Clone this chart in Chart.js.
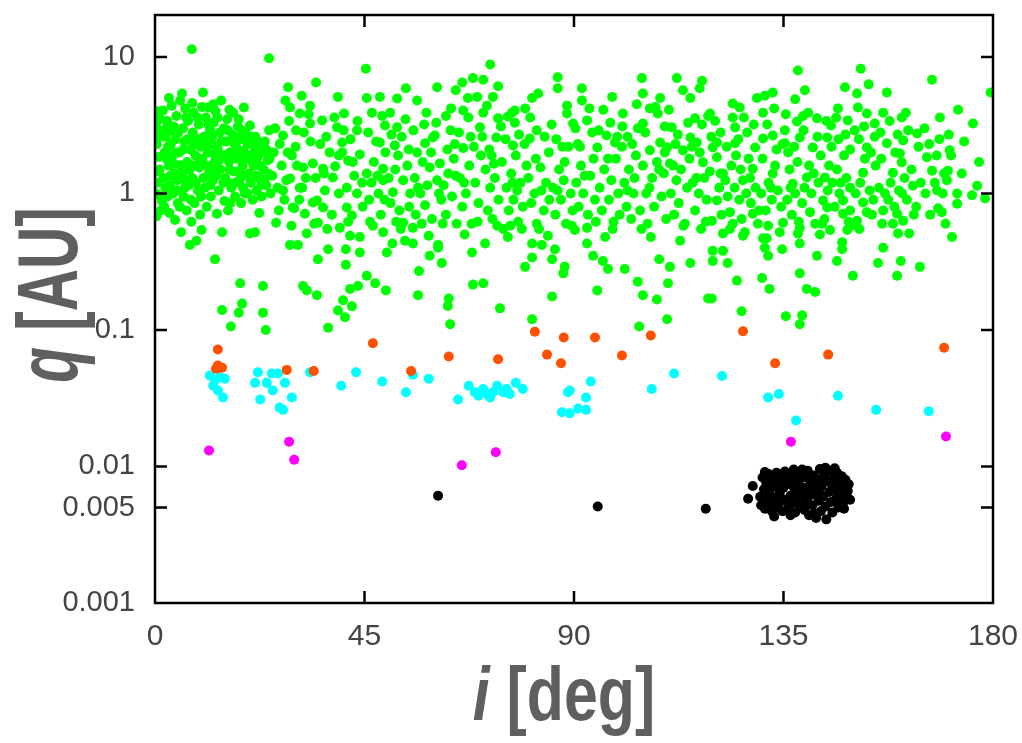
<!DOCTYPE html>
<html>
<head>
<meta charset="utf-8">
<script src="https://cdn.jsdelivr.net/npm/chart.js@4.4.1/dist/chart.umd.min.js"></script>
<style>
  html, body { margin: 0; padding: 0; background: #fff; }
  #wrap { width: 1022px; height: 743px; }
</style>
</head>
<body>
<div id="wrap"><canvas id="myChart" width="1022" height="743"></canvas></div>
<script>
// ejes
const xTicks = [0, 45, 90, 135, 180];
const yTicks = [0.001, 0.005, 0.01, 0.1, 1, 10];
const xTitle = ['i', ' [deg]'];
const yTitle = ['q', ' [AU]'];

// puntos [i (deg), q (AU)]
const greenPts = [
  [0.3,0.68],[0.5,1.2],[0.4,2.3],[0.3,3.05],[0.5,4.0],[1.2,0.95],[1.0,1.5],[1.4,2.7],[1.7,4.05],[2.0,0.8],[2.2,1.1],[2.5,1.8],[2.6,3.4],[2.8,2.2],[3.1,0.72],[3.3,1.35],[3.5,2.9],[3.6,4.4],[3.9,1.0],[4.1,1.65],[4.3,0.64],[4.4,2.5],[4.6,3.7],[4.8,1.25],[4.9,0.85],[1.5,0.88],[3.0,1.6],[2.3,2.6],[4.0,3.1],[0.8,1.85],
  [5.2,2.0],[5.4,4.8],[5.8,5.4],[5.6,0.52],[5.9,1.4],[6.0,3.0],[6.2,0.95],[6.3,2.4],[6.5,4.2],[6.8,0.75],[6.9,1.7],[7.1,3.4],[7.3,1.15],[7.5,0.42],[7.6,2.1],[7.8,0.62],[8.0,1.3],[8.1,2.8],[8.3,3.9],[8.5,0.85],[8.7,1.9],[8.9,0.45],[9.0,2.5],[9.2,1.05],[9.4,3.2],[9.5,1.55],[9.7,0.7],[9.8,2.2],[7.9,11.4],[6.6,1.25],[8.2,1.6],
  [10.0,0.54],[10.2,1.8],[10.3,5.5],[10.5,2.6],[10.7,1.1],[10.9,3.6],[11.1,0.8],[11.3,2.0],[11.4,4.26],[11.6,1.4],[11.8,2.9],[12.0,0.95],[12.2,2.3],[12.4,1.25],[12.6,3.3],[12.9,0.33],[12.8,1.7],[13.0,4.0],[13.3,0.71],[13.5,2.1],[13.7,1.05],[13.9,2.8],[14.0,1.5],[14.2,4.8],[14.4,0.52],[14.4,0.14],[14.6,1.9],[14.8,3.0],[14.9,0.88],[12.1,1.55],
  [15.1,1.3],[15.3,2.4],[15.5,3.5],[15.7,0.75],[15.9,1.7],[16.1,2.0],[16.3,0.106],[16.4,1.1],[16.6,2.7],[16.8,3.9],[17.0,1.45],[17.2,0.95],[17.4,2.2],[17.6,1.8],[17.8,3.1],[18.0,0.134],[18.3,0.22],[18.1,1.25],[18.3,2.5],[18.5,0.85],[18.7,0.156],[18.8,1.6],[19.1,4.26],[19.0,2.05],[19.3,1.0],[19.5,2.8],[19.7,1.35],[19.9,2.3],[15.8,1.2],[17.5,2.55],
  [20.1,1.9],[20.4,3.15],[20.4,0.51],[20.6,1.2],[20.8,2.3],[21.0,0.9],[21.2,1.6],[21.5,0.52],[21.6,2.6],[21.8,1.05],[22.0,1.85],[22.3,1.3],[22.6,2.1],[22.9,0.95],[23.2,0.21],[23.2,0.134],[23.3,1.5],[23.6,2.4],[23.8,0.10],[23.9,1.15],[24.2,1.75],[24.5,9.8],[24.5,2.9],[24.8,1.0],[22.4,0.72],
  [25.2,1.35],[25.5,2.0],[26.0,0.61],[26.3,1.1],[26.8,2.3],[27.5,2.66],[27.2,1.6],[27.8,0.9],[28.2,1.25],[28.6,6.0],[28.8,3.4],[29.0,4.26],[29.0,1.29],[29.0,0.42],[29.6,0.79],[29.9,0.78],[29.4,1.9],[28.0,4.8],
  [30.2,2.2],[30.7,0.42],[31.1,1.1],[31.1,3.85],[31.5,5.2],[31.6,1.1],[31.8,0.21],[31.8,1.55],[32.2,0.71],[32.6,0.51],[32.6,0.195],[33.3,4.4],[33.3,3.26],[33.4,2.4],[33.9,0.86],[33.9,1.66],[34.6,6.5],[34.8,0.89],[34.8,0.18],[34.5,1.3],[32.0,2.8],[30.5,1.6],
  [35.0,0.61],[35.0,0.33],[35.9,3.43],[36.1,1.52],[36.1,0.79],[36.5,1.05],[37.2,0.39],[37.2,0.104],[37.5,2.0],[38.2,1.31],[38.7,1.58],[39.1,3.05],[39.3,5.1],[39.3,0.139],[39.7,0.56],[38.0,0.7],[36.8,2.6],[39.5,1.0],
  [40.2,2.36],[40.2,2.0],[40.4,0.165],[40.6,3.85],[40.8,0.124],[41.0,0.39],[41.0,0.30],[41.2,1.1],[41.2,0.79],[41.5,1.74],[41.9,0.49],[41.9,0.2],[42.3,0.69],[42.3,0.149],[43.4,2.9],[43.4,1.0],[43.6,0.21],[44.0,0.37],[44.0,1.93],[44.0,0.48],[42.8,1.35],[44.6,0.8],[42.0,2.5],
  [45.3,8.2],[45.5,5.0],[45.5,1.4],[45.5,0.25],[46.6,3.9],[46.0,0.9],[46.5,1.2],[47.3,0.22],[47.5,2.4],[48.3,5.1],[48.3,2.36],[48.5,0.7],[49.0,1.52],[49.0,1.25],[49.0,0.52],[49.4,3.15],[49.6,0.195],[49.8,0.37],[47.0,1.7],[48.0,1.0],[46.2,0.62],[49.5,2.0],
  [50.5,3.9],[51.0,0.43],[51.1,1.02],[51.5,2.25],[52.0,4.97],[52.0,3.05],[52.2,1.9],[52.5,0.75],[53.3,1.25],[53.3,0.61],[53.7,0.45],[53.9,5.9],[54.2,1.6],[54.8,1.0],[50.2,1.3],[51.8,0.62],[50.6,0.85],[53.0,2.6],[54.5,2.1],
  [55.4,0.43],[55.4,0.56],[56.3,4.8],[56.3,2.0],[56.5,0.18],[56.7,0.27],[58.0,2.33],[58.0,0.82],[58.8,0.49],[59.0,0.35],[59.0,1.55],[59.7,2.57],[55.8,1.3],[57.0,1.0],[57.5,1.7],[56.0,0.7],[58.5,1.15],[59.5,0.65],[57.8,3.2],
  [60.1,2.66],[60.6,6.0],[60.6,1.25],[60.8,0.42],[61.2,1.66],[61.6,0.31],[62.5,3.7],[62.9,0.15],[63.1,0.17],[63.4,0.11],[64.4,2.3],[64.6,5.7],[60.8,0.40],[61.5,0.9],[62.0,1.15],[62.5,0.7],[63.0,1.4],[63.8,0.95],[64.2,1.8],[64.8,0.6],[61.0,1.0],[63.5,2.9],
  [66.0,6.5],[66.2,4.05],[66.2,2.15],[67.2,5.0],[68.3,7.0],[68.3,0.215],[68.1,0.37],[69.2,5.1],[69.8,3.05],[65.5,1.3],[66.0,0.8],[66.8,1.0],[67.5,1.6],[68.0,0.6],[68.8,1.2],[69.5,0.85],[70.0,1.9],[66.5,0.5],[67.8,2.6],
  [70.5,6.8],[70.5,3.9],[70.5,0.22],[70.9,0.43],[72.0,8.8],[72.6,5.1],[73.3,2.57],[73.7,6.1],[73.7,3.55],[74.1,0.144],[71.0,1.5],[71.5,0.75],[72.0,1.1],[72.5,0.65],[73.0,1.3],[73.8,0.9],[74.5,1.7],[71.8,2.1],[74.8,0.55],[72.8,1.65],
  [75.8,3.66],[75.8,0.48],[76.7,3.9],[76.9,2.25],[77.3,4.05],[79.5,4.2],[79.5,0.29],[75.5,1.1],[76.0,0.75],[76.5,1.4],[77.0,0.9],[77.5,1.9],[78.0,0.62],[78.5,1.2],[79.0,0.8],[79.8,1.6],[78.2,2.7],[76.3,0.58],[77.8,1.05],
  [80.5,2.53],[81.0,5.0],[81.0,0.12],[81.0,0.34],[81.0,0.43],[82.0,2.9],[82.3,5.4],[83.1,0.42],[84.4,0.49],[80.2,1.3],[80.8,0.85],[81.5,1.0],[82.0,0.6],[82.8,1.55],[83.5,0.75],[84.0,1.2],[84.6,2.0],[83.0,1.05],
  [85.3,0.176],[85.3,0.33],[85.9,0.39],[86.5,7.1],[86.5,5.9],[87.7,0.26],[88.0,0.29],[88.5,3.85],[89.8,3.26],[85.5,1.1],[86.0,0.7],[86.8,1.5],[87.2,0.9],[87.8,1.25],[88.3,0.6],[88.8,2.2],[89.3,1.0],[89.7,0.75],[86.2,2.5],[88.0,1.7],
  [90.2,0.54],[91.7,5.9],[91.7,4.8],[92.8,3.43],[92.8,0.43],[92.8,0.56],[93.9,2.8],[94.1,0.35],[95.0,2.17],[95.0,0.195],[90.5,1.2],[91.0,0.8],[91.5,1.6],[92.0,1.0],[93.0,0.7],[93.5,1.35],[94.5,0.9],[90.8,2.3],[94.2,1.8],
  [96.2,0.32],[96.7,0.48],[97.0,2.66],[97.3,0.28],[98.2,5.1],[98.8,2.36],[95.5,1.1],[96.0,0.75],[96.5,1.5],[97.5,0.9],[98.0,1.25],[98.5,0.62],[99.0,1.8],[99.5,1.0],[99.8,0.7],[97.8,3.3],
  [100.3,2.2],[100.5,3.85],[100.9,0.28],[103.7,0.226],[103.7,3.0],[104.0,0.106],[104.6,7.0],[104.8,5.4],[104.8,3.26],[104.8,1.6],[104.8,0.18],[100.8,1.2],[101.3,0.8],[101.8,1.5],[102.3,0.65],[102.8,1.0],[103.3,1.9],[104.2,0.75],[101.5,2.6],[103.0,1.3],
  [106.3,4.2],[106.3,2.07],[107.8,0.167],[108.0,3.85],[108.3,0.33],[108.5,5.0],[108.5,2.36],[110.0,2.17],[110.0,0.12],[105.5,1.0],[105.8,0.6],[106.8,1.3],[107.2,0.8],[107.8,1.7],[108.8,0.95],[109.3,1.4],[109.8,0.65],[106.5,0.48],[109.5,3.1],
  [110.2,0.22],[110.6,0.29],[110.6,1.66],[111.0,3.05],[112.1,7.0],[112.8,0.45],[113.4,5.7],[113.4,2.07],[115.0,5.0],[115.0,2.57],[115.0,0.31],[110.8,1.0],[111.5,0.7],[112.0,1.25],[112.5,0.85],[113.0,1.5],[113.8,0.6],[114.3,1.1],[114.8,1.8],[111.8,2.3],
  [116.0,3.55],[116.4,2.36],[117.0,5.9],[117.5,6.7],[117.7,1.69],[118.8,3.7],[118.8,0.17],[119.2,3.85],[119.6,0.63],[119.6,0.17],[119.8,2.17],[119.8,0.38],[119.8,0.32],[115.5,1.2],[116.0,0.75],[116.8,1.0],[117.3,0.55],[118.0,1.3],[118.5,0.9],[119.2,1.45],[117.0,2.0],
  [120.7,2.36],[120.7,1.84],[120.7,0.89],[122.0,1.4],[122.0,0.51],[122.0,0.38],[123.0,0.31],[123.5,0.73],[124.1,4.56],[124.1,3.6],[124.1,0.6],[124.6,3.05],[124.6,2.33],[125.0,0.23],[121.2,1.1],[121.7,0.7],[122.5,1.25],[123.0,0.95],[123.8,1.6],[124.5,1.1],[121.5,2.8],
  [125.6,4.26],[126.0,0.137],[126.3,1.25],[126.3,0.49],[126.7,0.52],[128.4,1.52],[128.4,0.71],[128.9,2.17],[129.3,5.0],[125.5,0.9],[126.0,0.65],[127.0,1.0],[127.5,1.8],[128.0,0.85],[129.0,1.1],[129.5,0.6],[127.2,2.8],[125.8,1.5],
  [130.4,0.24],[130.6,3.9],[130.6,2.53],[130.6,0.47],[131.0,5.2],[131.0,0.40],[131.4,0.47],[131.7,0.58],[131.7,0.35],[132.0,0.2],[132.7,5.5],[132.7,2.66],[132.7,1.4],[134.2,0.52],[134.7,0.39],[134.9,0.61],[130.2,1.0],[131.2,0.75],[131.8,1.2],[132.5,0.9],[133.2,1.6],[133.8,1.05],[134.5,0.8],[133.5,2.1],
  [135.3,2.9],[135.3,2.33],[135.5,0.126],[137.0,1.18],[137.5,4.9],[137.9,3.37],[138.1,7.95],[138.1,0.51],[138.5,2.57],[138.5,0.56],[138.5,0.43],[138.5,0.26],[138.5,0.11],[139.0,0.128],[139.2,3.7],[139.6,5.7],[140.0,1.31],[140.0,0.2],[135.8,0.9],[136.3,1.5],[136.8,0.7],[137.5,1.0],[138.0,1.7],[139.0,0.85],[139.5,1.1],[136.0,2.0],
  [140.7,0.73],[141.3,2.17],[141.8,0.19],[142.2,3.55],[142.2,0.35],[143.5,0.89],[143.9,1.31],[144.4,2.57],[144.4,0.79],[145.0,0.54],[140.5,1.6],[141.0,1.0],[141.8,0.6],[142.5,1.2],[143.0,1.9],[143.8,0.65],[144.5,1.05],[142.8,0.5],[144.8,1.6],
  [145.2,3.15],[146.5,0.32],[146.7,4.2],[147.6,0.39],[147.6,0.44],[147.8,0.89],[147.8,0.71],[148.2,6.0],[148.7,0.54],[148.8,3.43],[149.3,2.1],[149.3,0.75],[149.3,1.1],[149.9,0.25],[145.5,1.2],[146.0,0.8],[146.5,1.5],[147.0,1.0],[148.0,1.9],[148.5,1.3],[149.0,0.62],[146.8,2.5],
  [150.8,5.4],[150.8,0.63],[151.0,4.26],[151.6,8.2],[152.1,1.42],[152.1,0.86],[152.9,3.85],[152.9,2.17],[152.9,0.73],[153.3,6.3],[154.6,3.26],[154.6,2.6],[150.5,1.0],[151.5,1.2],[152.5,1.8],[153.5,1.05],[154.0,0.7],[154.8,1.6],[151.2,2.5],
  [155.3,0.31],[156.2,0.6],[156.4,3.9],[156.4,0.75],[156.4,0.40],[157.2,5.5],[157.2,2.33],[158.5,1.42],[158.5,0.6],[159.4,0.71],[159.4,0.25],[159.6,0.51],[155.5,1.1],[156.0,1.8],[157.5,0.9],[158.0,1.2],[159.0,2.0],[159.8,1.05],
  [160.0,1.96],[160.2,0.32],[160.4,3.6],[160.4,1.69],[160.7,2.45],[160.7,0.63],[161.3,3.9],[162.0,0.51],[162.8,1.14],[163.7,2.75],[164.3,0.29],[161.5,0.9],[162.5,1.5],[163.5,0.8],[164.5,1.2],[161.0,1.3],
  [165.8,1.84],[166.9,6.8],[166.9,1.47],[167.9,1.9],[168.0,1.05],[168.2,0.78],[168.6,3.6],[169.0,0.73],[169.2,1.0],[165.5,1.0],[166.5,0.7],[167.5,1.2],[169.5,1.4],
  [170.1,1.25],[170.3,1.47],[170.5,2.7],[170.7,2.07],[171.2,0.48],[172.3,1.0],[172.3,0.84],[172.5,4.1],[173.3,1.4],[175.5,0.97],[175.7,3.26],[176.6,1.14],[178.3,0.92],[179.5,5.5],
  // zona densa de la izquierda
  [0.2,1.0],[0.6,1.45],[0.9,2.6],[1.1,3.5],[1.3,0.75],[1.8,1.3],[2.1,2.0],[2.4,3.0],[2.7,0.95],[3.2,1.15],[3.4,2.3],[3.8,1.9],[4.2,1.4],[4.5,2.0],[4.7,1.05],[5.0,2.8],[5.3,0.8],[5.5,1.6],[6.1,2.1],[6.4,1.1],
  [6.7,3.6],[7.0,2.5],[7.4,1.5],[7.7,0.9],[8.4,2.3],[8.8,1.2],[9.1,3.6],[9.6,1.8],[9.9,0.95],[10.4,1.3],[10.8,2.3],[11.0,1.6],[11.5,3.2],[11.9,1.15],[12.3,2.6],[12.7,1.95],[13.1,1.35],[13.4,3.6],[13.8,1.75],[14.3,2.4],
  [14.7,1.2],[15.2,1.9],[15.6,2.9],[16.0,1.5],[16.2,0.85],[16.7,1.85],[17.1,2.3],[17.3,1.2],[17.9,2.0],[18.2,1.45],[18.6,2.9],[18.9,1.1],[19.2,1.8],[19.6,2.5],[19.8,1.0],[20.2,1.4],[20.5,2.6],[20.9,1.7],[21.3,2.0],[21.7,1.35],
  [22.1,2.4],[22.5,1.6],[22.8,1.15],[23.1,2.0],[23.5,1.25],[23.9,2.1],[24.3,1.4],[24.6,1.8],[10.1,4.3],[12.5,4.5],[16.0,4.1],[18.0,3.5],[8.0,4.6],[3.0,5.0],
  // resto de la banda
  [25.8,3.0],[26.6,0.75],[27.5,1.05],[28.5,2.0],[29.3,0.58],[30.3,2.9],[31.0,0.9],[32.4,1.3],[33.0,3.8],[34.2,0.6],
  [35.5,2.3],[36.3,1.4],[37.0,0.55],[38.5,3.6],[39.5,1.9],[40.5,2.9],[41.5,0.62],[42.5,1.7],[43.5,3.4],[44.5,1.2],
  [45.8,2.8],[46.8,0.58],[47.8,1.35],[48.8,3.7],[49.3,0.9],[50.8,2.7],[51.6,1.5],[52.8,0.55],[53.8,3.5],[54.6,0.8],
  [55.5,2.9],[56.5,1.1],[57.3,0.6],[58.3,3.9],[59.3,2.0],[60.4,3.3],[61.8,0.6],[62.8,2.1],[63.6,4.2],[64.6,1.35],
  [65.3,2.8],[66.4,1.2],[67.3,3.6],[68.5,2.2],[69.3,0.62],[70.3,2.6],[71.3,4.4],[72.3,1.9],[73.5,0.58],[74.3,3.1],
  [75.3,2.5],[76.8,1.2],[77.3,3.3],[78.8,0.55],[79.4,2.3],[80.6,3.6],[81.8,1.8],[82.5,0.55],[83.7,2.6],[84.7,0.9],
  [85.2,3.2],[86.5,1.05],[87.5,2.2],[88.5,4.4],[89.5,0.58],[90.3,3.0],[91.3,2.2],[92.3,1.35],[93.3,4.2],[94.7,0.62],
  [95.3,2.9],[96.3,4.1],[97.3,1.8],[98.3,0.55],[99.3,2.6],[100.4,3.1],[101.5,1.05],[102.5,2.3],[103.5,4.5],[104.5,0.55],
  [105.3,2.8],[106.2,1.1],[107.5,4.3],[108.3,1.5],[109.5,2.0],[110.4,4.1],[111.3,1.6],[112.3,2.7],[113.5,0.58],[114.5,3.3],
  [115.3,2.2],[116.3,1.3],[117.5,3.2],[118.3,0.62],[119.5,2.6],[120.3,3.4],[121.5,1.4],[122.8,2.2],[123.5,0.55],[124.8,1.9],
  [125.3,2.5],[126.5,3.6],[127.8,1.3],[128.6,3.2],[129.7,0.75],[130.5,1.8],[131.5,3.2],[132.3,1.1],[133.0,4.2],[134.8,2.3],
  [135.5,3.8],[136.5,1.1],[137.3,2.2],[138.3,0.62],[139.3,2.9],[140.3,3.9],[141.5,1.4],[142.3,2.6],[143.3,0.6],[144.2,3.4],
  [145.3,2.2],[146.3,3.6],[147.3,1.2],[148.3,2.7],[149.6,0.58],[150.3,2.9],[151.3,0.55],[152.3,3.1],[153.8,2.0],[154.3,0.9],
  [155.8,2.8],[156.8,1.0],[157.8,3.4],[158.8,0.8],[159.5,2.7],[160.5,1.0],[161.8,2.9],[163.0,0.7],[164.0,2.2],
  [165.3,3.0],[166.3,2.3],[168.5,2.5],[169.8,0.6],[171.0,1.9],[173.8,2.4],[177.0,1.7]
];

const orangePts = [
  [13.5,0.072],[13.5,0.055],[14.4,0.053],[13.1,0.052],[28.3,0.051],[34.1,0.050],[46.8,0.080],[55.0,0.050],[63.1,0.064],[73.7,0.061],
  [81.6,0.097],[84.2,0.066],[87.2,0.057],[87.8,0.088],[94.5,0.088],[100.3,0.065],[106.5,0.091],[126.3,0.098],[133.2,0.057],[144.6,0.066],[169.5,0.074]
];

const cyanPts = [
  [11.8,0.0465],[12.9,0.043],[12.5,0.039],[13.5,0.036],[14.6,0.032],[15.0,0.044],[14.0,0.045],[22.1,0.049],[21.5,0.041],[24.0,0.041],
  [25.3,0.036],[25.1,0.048],[26.4,0.048],[27.9,0.041],[29.4,0.032],[22.6,0.031],[27.5,0.026],[26.8,0.027],[33.3,0.049],[40.0,0.039],
  [43.2,0.049],[48.8,0.042],[53.9,0.035],[55.4,0.047],[58.8,0.044],[65.1,0.031],[67.4,0.039],[68.7,0.035],[70.5,0.037],[72.0,0.032],
  [73.5,0.039],[74.8,0.035],[76.2,0.034],[77.5,0.041],[79.0,0.037],[72.6,0.035],[71.3,0.034],[69.5,0.033],[75.5,0.037],[88.7,0.035],
  [87.4,0.025],[89.1,0.036],[89.1,0.0245],[90.9,0.0266],[92.6,0.026],[92.6,0.032],[93.6,0.042],[106.7,0.037],[111.5,0.048],[121.8,0.046],
  [131.7,0.032],[134.0,0.034],[137.7,0.0217],[146.7,0.033],[154.9,0.026],[166.2,0.0254]
];

const magentaPts = [
  [11.6,0.0131],[28.8,0.0152],[29.9,0.0112],[65.9,0.0102],[73.2,0.0127],[136.6,0.0152],[169.9,0.0166]
];

const blackPts = [
  [60.8,0.0061],[95.1,0.0051],[118.3,0.0049],[128.4,0.0072],[127.4,0.0058],
  [130.0,0.0060],[130.2,0.0052],[130.5,0.0083],[130.8,0.0068],[131.0,0.0049],[131.3,0.0076],[131.5,0.0058],[131.8,0.0088],[132.0,0.0064],[132.2,0.0053],
  [132.5,0.0047],[132.8,0.0080],[133.0,0.0071],[133.2,0.0059],[133.5,0.0090],[133.7,0.0050],[134.0,0.0075],[134.2,0.0055],[134.5,0.0085],[134.8,0.0047],
  [135.0,0.0070],[135.3,0.0092],[135.5,0.0057],[135.8,0.0079],[136.0,0.0050],[136.2,0.0088],[136.5,0.0061],[136.8,0.0073],[137.0,0.0054],[137.2,0.0095],
  [137.5,0.0046],[137.8,0.0082],[138.0,0.0058],[138.3,0.0076],[138.5,0.0051],[138.8,0.0089],[139.0,0.0064],[139.2,0.0070],[139.5,0.0048],[139.8,0.0083],
  [140.0,0.0057],[140.2,0.0093],[140.5,0.0044],[140.8,0.0075],[141.0,0.0062],[141.2,0.0052],[141.5,0.0086],[141.8,0.0068],[142.0,0.0042],[142.2,0.0079],
  [142.5,0.0056],[142.8,0.0096],[143.0,0.0047],[143.2,0.0072],[143.5,0.0060],[143.8,0.0087],[144.0,0.0051],[144.2,0.0041],[144.5,0.0078],[144.8,0.0065],
  [145.0,0.0093],[145.2,0.0055],[145.5,0.0046],[145.8,0.0082],[146.0,0.0069],[146.3,0.0058],[146.5,0.0090],[146.8,0.0050],[147.0,0.0075],[147.3,0.0062],
  [147.5,0.0085],[147.8,0.0054],[148.0,0.0070],[148.3,0.0080],[148.5,0.0059],[148.8,0.0066],[149.0,0.0074],[149.3,0.0057],[131.0,0.0091],[133.0,0.0043],
  [136.5,0.0044],[139.0,0.0095],[141.5,0.0045],[144.0,0.0098],[146.0,0.0097],[148.0,0.0049],[134.2,0.0064],[137.4,0.0066],[140.5,0.0066],[142.8,0.0063],
  [145.5,0.0072],[143.0,0.0081],[138.2,0.0086],[132.0,0.0072],[139.8,0.0053],[146.8,0.0064]
];

function toXY(pts) {
  return pts.map(p => ({ x: p[0], y: p[1] }));
}

function serie(pts, color, order) {
  return {
    data: toXY(pts),
    backgroundColor: color,
    borderWidth: 0,
    pointRadius: 5,
    pointHoverRadius: 5,
    order: order
  };
}

function textoMixto(ctx, partes, fuente, cx, cy) {
  // primera parte en cursiva, resto normal
  ctx.font = 'italic ' + fuente;
  const w0 = ctx.measureText(partes[0]).width;
  ctx.font = fuente;
  const w1 = ctx.measureText(partes[1]).width;
  let x0 = cx - (w0 + w1) / 2;
  ctx.font = 'italic ' + fuente;
  ctx.fillText(partes[0], x0, cy);
  ctx.font = fuente;
  ctx.fillText(partes[1], x0 + w0, cy);
}

function sinRelleno(s) {
  s.paddingTop = 0;
  s.paddingBottom = 0;
  s.paddingLeft = 0;
  s.paddingRight = 0;
}

const marcoPlugin = {
  id: 'marco',
  afterDraw(chart) {
    const ctx = chart.ctx;
    const a = chart.chartArea;
    const x = chart.scales.x;
    const y = chart.scales.y;
    ctx.save();
    ctx.strokeStyle = '#000';
    ctx.lineWidth = 2.5;
    ctx.strokeRect(a.left, a.top, a.right - a.left, a.bottom - a.top);
    ctx.beginPath();
    yTicks.forEach(v => {
      const py = y.getPixelForValue(v);
      if (py > a.bottom - 2 || py < a.top + 2) return;
      ctx.moveTo(a.left, py); ctx.lineTo(a.left + 12, py);
      ctx.moveTo(a.right, py); ctx.lineTo(a.right - 12, py);
    });
    xTicks.forEach(v => {
      const px = x.getPixelForValue(v);
      if (px < a.left + 2 || px > a.right - 2) return;
      ctx.moveTo(px, a.bottom); ctx.lineTo(px, a.bottom - 12);
      ctx.moveTo(px, a.top); ctx.lineTo(px, a.top + 12);
    });
    ctx.stroke();

    // titulos de los ejes
    ctx.fillStyle = '#5f5f5f';
    ctx.textBaseline = 'alphabetic';
    ctx.textAlign = 'left';
    ctx.save();
    ctx.translate(564, 720);
    ctx.scale(0.8, 1);
    textoMixto(ctx, xTitle, 'bold 76px "Liberation Sans", Arial, sans-serif', 0, 0);
    ctx.restore();

    ctx.save();
    ctx.translate(77, 295);
    ctx.rotate(-Math.PI / 2);
    ctx.scale(0.68, 1);
    textoMixto(ctx, yTitle, 'bold 86px "Liberation Sans", Arial, sans-serif', 0, 0);
    ctx.restore();
    ctx.restore();
  }
};

const ctx = document.getElementById('myChart').getContext('2d');
const myChart = new Chart(ctx, {
  type: 'scatter',
  data: {
    datasets: [
      serie(greenPts, '#00ff00', 5),
      serie(cyanPts, '#00ffff', 4),
      serie(orangePts, '#ff5000', 3),
      serie(magentaPts, '#ff00ff', 2),
      serie(blackPts, '#000000', 1)
    ]
  },
  options: {
    responsive: false,
    animation: false,
    events: [],
    layout: { padding: { top: 15, right: 29, left: 0, bottom: 0 } },
    plugins: {
      legend: { display: false },
      tooltip: { enabled: false }
    },
    scales: {
      x: {
        type: 'linear',
        min: 0,
        max: 180,
        grid: { display: false, drawTicks: false },
        border: { display: false },
        afterBuildTicks: s => { s.ticks = xTicks.map(v => ({ value: v })); },
        afterFit: s => { s.height = 140; sinRelleno(s); },
        ticks: {
          color: '#444',
          padding: 16,
          maxRotation: 0,
          autoSkip: false,
          font: { family: '"Liberation Sans", Arial, sans-serif', size: 30 },
          callback: v => String(v)
        }
      },
      y: {
        type: 'logarithmic',
        min: 0.001,
        max: 20.3,
        grid: { display: false, drawTicks: false },
        border: { display: false },
        afterBuildTicks: s => { s.ticks = yTicks.map(v => ({ value: v })); },
        afterFit: s => { s.width = 155; sinRelleno(s); },
        ticks: {
          color: '#444',
          padding: 20,
          autoSkip: false,
          font: { family: '"Liberation Sans", Arial, sans-serif', size: 29 },
          callback: v => String(v)
        }
      }
    }
  },
  plugins: [marcoPlugin]
});
</script>
</body>
</html>
